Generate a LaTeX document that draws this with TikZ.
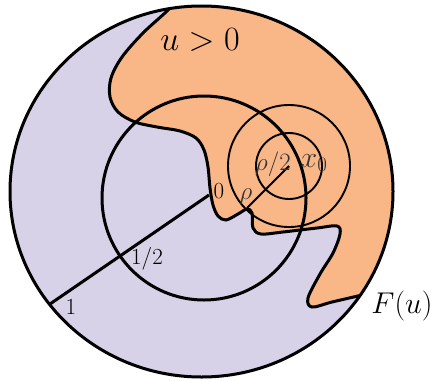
\RequirePackage{fix-cm}
\documentclass[tikz,border=0pt]{standalone}
\definecolor{lilac}{RGB}{216,210,232}
\definecolor{peach}{RGB}{249,182,135}

\begin{document}
\begin{tikzpicture}[x=1pt, y=-1pt,
    bound/.style={line width=3pt},
    ring/.style={line width=1.9pt},
    mathlbl/.style={font=\fontsize{34}{36}\selectfont},
    numlbl/.style={font=\fontsize{23}{25}\selectfont},
    rholbl/.style={font=\fontsize{25}{27}\selectfont, text=black!80}
  ]
  \useasboundingbox (0,0) rectangle (435,380);
  % the unit disc
  \coordinate (c) at (201.5,191.5);
  \fill[lilac] (c) ellipse [x radius=191.5, y radius=185.5];
  % positive phase and free boundary
  \begin{scope}
    \clip (c) ellipse [x radius=191.5, y radius=185.5];
    \filldraw[fill=peach, bound] plot[smooth, tension=0.55] coordinates {
      (172,2) (168,10) (143,33) (122,57) (111,78) (110,97) (118,112)
      (135,122) (157,127) (180,131) (196,138) (204,150) (208,167)
      (210,188) (213,205) (218,216) (226,220) (238,214) (247,209)
      (252,213) (253,228) (261,234) (283,232) (317,228) (337,226)
      (340,234) (333,253) (320,274) (308,298) (312,307) (332,302)
      (362,295) (372,292)}
      -- (440,292) -- (440,-10) -- (172,-10) -- cycle;
  \end{scope}
  % half disc
  \draw[bound] (204,198) circle [radius=102];
  % balls around x_0
  \coordinate (x0) at (289,166);
  \draw[ring] (x0) circle [radius=33];
  \draw[ring] (x0) circle [radius=61];
  \draw[ring] (x0) -- ++(-42,42) coordinate (rh);
  % radius
  \coordinate (O) at (209,195);
  \coordinate (P1) at (50,304);
  \draw[bound] (O) -- (P1);
  \draw[bound] (c) ellipse [x radius=191.5, y radius=185.5];

  \node[mathlbl] (pos) at (200,40) {$u>0$};
  \node[font=\fontsize{30}{32}\selectfont] (Fu) at (402,306) {$F(u)$};
  \node[font=\fontsize{30}{32}\selectfont, text=black!80] (xl) at (314,163) {$x_0$};
  \node[rholbl] (half) at (273,164) {$\rho$/2};
  \node[rholbl] (rl) at (246,197) {$\rho$};
  \node[numlbl] (zero) at (219,191) {0};
  \node[numlbl] (hf) at (147,259) {1/2};
  \node[numlbl] (one) at (71,307) {1};
\end{tikzpicture}
\end{document}
